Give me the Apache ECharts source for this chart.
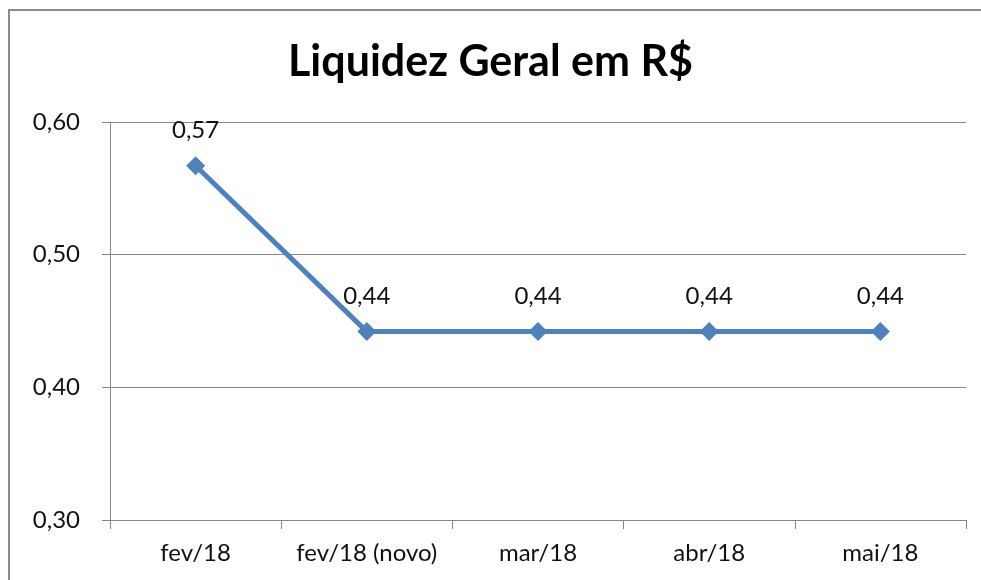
<!DOCTYPE html>
<html>
<head>
<meta charset="utf-8">
<script src="https://cdn.jsdelivr.net/npm/echarts@6/dist/echarts.min.js"></script>
<style>
html,body{margin:0;padding:0;background:#fff;overflow:hidden;width:981px;height:580px;}
#frame{position:absolute;left:8px;top:9px;width:990px;height:600px;border-left:2px solid #8c8c8c;border-top:2px solid #8c8c8c;box-sizing:border-box;}
#c{position:absolute;left:0;top:0;width:981px;height:580px;}
</style>
</head>
<body>
<div id="frame"></div>
<div id="c"></div>
<script>
const categories = ["fev/18", "fev/18 (novo)", "mar/18", "abr/18", "mai/18"];
const values = [0.567, 0.442, 0.442, 0.442, 0.442];
const yTicks = { min: 0.30, max: 0.60, interval: 0.10 };
const title = "Liquidez Geral em R$";

const fmt = v => v.toFixed(2).replace('.', ',');
const chart = echarts.init(document.getElementById('c'));
chart.setOption({
  backgroundColor: 'transparent',
  animation: false,
  title: {
    text: title, left: 'center', top: 36,
    textStyle: { fontFamily: 'Lato', fontWeight: 'bold', fontSize: 43, color: '#000' }
  },
  grid: { left: 110, right: 15, top: 122, bottom: 60 },
  xAxis: {
    type: 'category', data: categories, boundaryGap: true,
    axisLine: { lineStyle: { color: '#868686', width: 1 } },
    axisTick: { show: true, interval: 0, length: 9, lineStyle: { color: '#868686' }, alignWithLabel: false },
    axisLabel: { interval: 0, hideOverlap: false, color: '#111', fontFamily: 'Lato', fontSize: 24, margin: 21 }
  },
  yAxis: {
    type: 'value', min: yTicks.min, max: yTicks.max, interval: yTicks.interval,
    axisLine: { show: true, lineStyle: { color: '#868686', width: 1 } },
    axisTick: { show: true, length: 8, lineStyle: { color: '#868686' } },
    splitLine: { lineStyle: { color: '#868686', width: 1 } },
    axisLabel: { color: '#111', fontFamily: 'Lato', fontSize: 24, margin: 30, formatter: v => fmt(v) }
  },
  series: [{
    type: 'line', data: values,
    symbol: 'diamond', symbolSize: 19,
    lineStyle: { color: '#4F81BD', width: 5 },
    itemStyle: { color: '#4F81BD' },
    label: {
      show: true, position: 'top', distance: 14,
      color: '#111', fontFamily: 'Lato', fontSize: 24,
      formatter: p => fmt(p.value)
    }
  }]
});
</script>
</body>
</html>
